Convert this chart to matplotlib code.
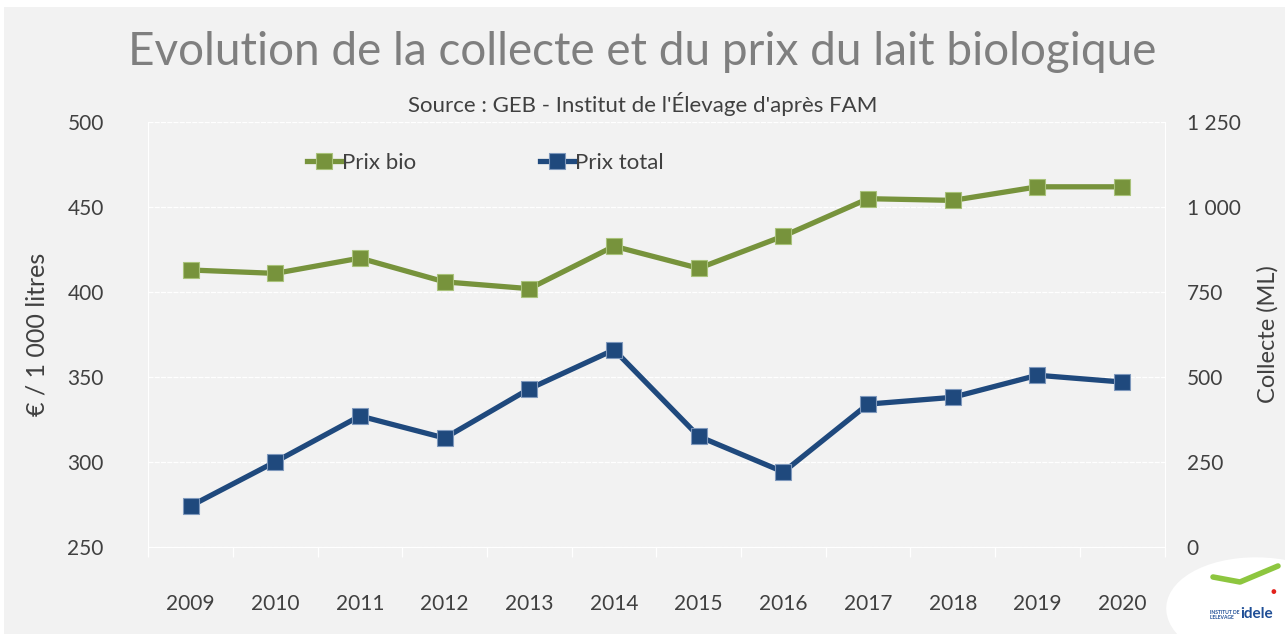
import matplotlib.pyplot as plt
from matplotlib.patches import Rectangle, Ellipse
from matplotlib.ticker import FuncFormatter, FixedLocator
from matplotlib.lines import Line2D

years = ["2009", "2010", "2011", "2012", "2013", "2014",
         "2015", "2016", "2017", "2018", "2019", "2020"]
prix_bio = [413, 411, 420, 406, 402, 427, 414, 433, 455, 454, 462, 462]
prix_total = [274, 300, 327, 314, 343, 366, 315, 294, 334, 338, 351, 347]

GREEN = "#77933C"
BLUE = "#1F497D"
TXT = "#404040"
BG = "#F2F2F2"
FONT = ["Lato", "DejaVu Sans"]

plt.rcParams["font.family"] = FONT

W, H = 1285, 634
fig = plt.figure(figsize=(W / 100, H / 100), dpi=100)
fig.patch.set_facecolor("white")
fig.patches.append(Rectangle((4 / W, 0), 1, 1 - 7 / H, transform=fig.transFigure,
                             facecolor=BG, edgecolor="none", zorder=-10))

ax = fig.add_axes([148.3 / W, 87.3 / H, 1016.2 / W, 424.4 / H])
ax.set_facecolor("none")

x = list(range(len(years)))
ax.plot(x, prix_bio, color=GREEN, lw=3.8, marker="s", ms=12,
        mfc=GREEN, mec="#A9C27A", mew=0.8, label="Prix bio", zorder=3)
ax.plot(x, prix_total, color=BLUE, lw=3.8, marker="s", ms=12,
        mfc=BLUE, mec="#7E98BC", mew=0.8, label="Prix total", zorder=3)

ax.set_xlim(-0.5, len(years) - 0.5)
ax.set_ylim(250, 500)
ax.set_yticks([250, 300, 350, 400, 450, 500])
ax.grid(axis="y", color="white", lw=0.9, ls=(0, (4, 1)))
ax.set_axisbelow(True)

ax.set_xticks(x)
ax.set_xticklabels(years)
ax.xaxis.set_minor_locator(FixedLocator([i - 0.5 for i in range(len(years) + 1)]))
ax.tick_params(axis="x", which="major", length=0, pad=34, labelsize=15, colors=TXT)
ax.tick_params(axis="x", which="minor", length=7, color="white", width=0.9)
ax.tick_params(axis="y", length=0, pad=32, labelsize=15, colors=TXT)

for s in ["top", "right"]:
    ax.spines[s].set_visible(False)
ax.spines["left"].set_color("white")
ax.spines["bottom"].set_color("white")

ax.set_ylabel("€ / 1 000 litres", fontsize=18, color=TXT, labelpad=14)

ax2 = ax.twinx()
ax2.set_ylim(0, 1250)
ax2.set_yticks([0, 250, 500, 750, 1000, 1250])
ax2.yaxis.set_major_formatter(FuncFormatter(lambda v, p: f"{int(v):,}".replace(",", " ")))
ax2.tick_params(axis="y", length=0, pad=16, labelsize=15, colors=TXT)
for s in ["top", "left", "bottom"]:
    ax2.spines[s].set_visible(False)
ax2.spines["right"].set_color("white")
ax2.set_ylabel("Collecte (ML)", fontsize=17, color=TXT, labelpad=12)

leg = ax.legend(loc="center left", bbox_to_anchor=(139 / 1016.2, 0.905), ncol=2,
                frameon=False, fontsize=16, handlelength=1.5, handletextpad=0.05,
                columnspacing=5.6, labelcolor=TXT)

fig.text(0.5, 1 - 52 / H, "Evolution de la collecte et du prix du lait biologique",
         ha="center", va="center", fontsize=33, color="#7F7F7F")
fig.text(0.5, 1 - 104 / H, "Source : GEB - Institut de l'Élevage d'après FAM",
         ha="center", va="center", fontsize=16, color=TXT)

# logo area
fig.patches.append(Ellipse((1262 / W, 1 - 612 / H), 190 / W, 110 / H, angle=12,
                           transform=fig.transFigure, facecolor="white",
                           edgecolor="none", zorder=-5))
fig.lines.append(Line2D([1213 / W, 1240 / W, 1278 / W],
                        [1 - 577 / H, 1 - 582 / H, 1 - 566 / H],
                        transform=fig.transFigure, color="#8DC63F", lw=4,
                        solid_capstyle="round"))
fig.text(1210 / W, 1 - 615 / H, "INSTITUT DE\nL'ELEVAGE", fontsize=3.6,
         color="#1F4E96", fontweight="bold", va="center", ha="left", linespacing=1)
fig.text(1240 / W, 1 - 614 / H, "idele", fontsize=11, color="#1F4E96",
         fontweight="bold", va="center", ha="left")
fig.text(1273 / W, 1 - 592 / H, "●", fontsize=7, color="#E2211C", va="center", ha="center")

fig.savefig("out.png", dpi=100, facecolor=fig.get_facecolor())
